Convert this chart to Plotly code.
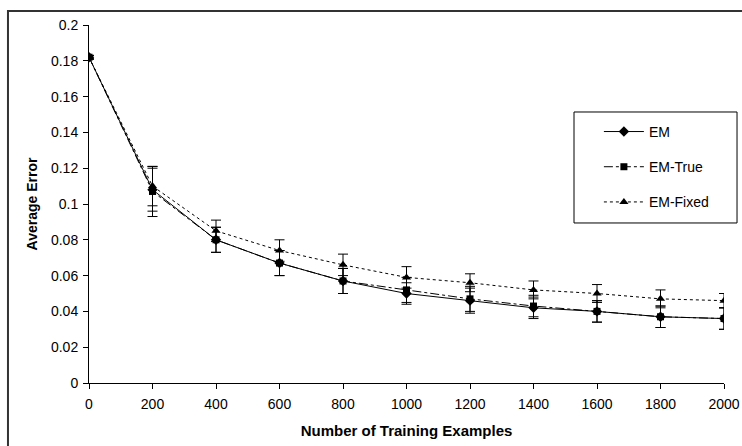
import plotly.graph_objects as go

x_vals = [0, 200, 400, 600, 800, 1000, 1200, 1400, 1600, 1800, 2000]

em = [0.182, 0.108, 0.080, 0.067, 0.057, 0.050, 0.046, 0.042, 0.040, 0.037, 0.036]
em_err = [0.001, 0.012, 0.007, 0.007, 0.007, 0.006, 0.007, 0.006, 0.006, 0.006, 0.006]

em_true = [0.182, 0.107, 0.080, 0.067, 0.057, 0.052, 0.047, 0.043, 0.040, 0.037, 0.036]
em_true_err = [0.001, 0.014, 0.007, 0.007, 0.007, 0.007, 0.007, 0.006, 0.006, 0.006, 0.006]

em_fixed = [0.182, 0.110, 0.085, 0.074, 0.066, 0.059, 0.056, 0.052, 0.050, 0.047, 0.046]
em_fixed_err = [0.001, 0.011, 0.006, 0.006, 0.006, 0.006, 0.005, 0.005, 0.005, 0.005, 0.004]

y_ticks = [0, 0.02, 0.04, 0.06, 0.08, 0.1, 0.12, 0.14, 0.16, 0.18, 0.2]
y_tick_labels = ["0", "0.02", "0.04", "0.06", "0.08", "0.1", "0.12", "0.14", "0.16", "0.18", "0.2"]
x_ticks = x_vals

series = [
    ("EM", em, em_err, "solid", "diamond", 8),
    ("EM-True", em_true, em_true_err, "dashdot", "square", 7),
    ("EM-Fixed", em_fixed, em_fixed_err, "dot", "triangle-up", 8),
]

fig = go.Figure()
for name, ys, errs, dash, sym, sz in series:
    fig.add_trace(go.Scatter(
        x=x_vals, y=ys, name=name, mode="lines+markers",
        legendgroup=name,
        line=dict(color="black", width=1, dash=dash),
        marker=dict(symbol=sym, size=sz, color="black"),
        error_y=dict(type="data", array=errs, visible=True, color="black",
                     thickness=1, width=5),
    ))

font_family = "Liberation Sans, Arial, sans-serif"

fig.update_layout(
    width=742, height=446,
    margin=dict(l=89, r=18, t=25, b=63, autoexpand=False),
    paper_bgcolor="white", plot_bgcolor="white",
    font=dict(family=font_family, size=14, color="black"),
    showlegend=True,
    legend=dict(
        x=0.803, y=0.746, xanchor="left", yanchor="top",
        borderwidth=0, bgcolor="rgba(0,0,0,0)",
        font=dict(size=14, family=font_family),
        tracegroupgap=14,
        itemwidth=40,
    ),
    xaxis=dict(
        range=[0, 2000], tickvals=x_ticks, automargin=False,
        showgrid=False, zeroline=False,
        showline=True, linecolor="black", linewidth=1,
        ticks="outside", ticklen=5, tickcolor="black",
        tickfont=dict(size=14), ticklabelstandoff=3,
        title=dict(text="<b>Number of Training Examples</b>",
                   font=dict(size=15), standoff=14),
    ),
    yaxis=dict(
        range=[0, 0.2], tickvals=y_ticks, ticktext=y_tick_labels, automargin=False,
        showgrid=False, zeroline=False,
        showline=True, linecolor="black", linewidth=1,
        ticks="outside", ticklen=5, tickcolor="black",
        tickfont=dict(size=14), ticklabelstandoff=2,
        title=dict(text="<b>Average Error</b>",
                   font=dict(size=14, family="Liberation Sans Narrow, Liberation Sans, Arial"),
                   standoff=10),
    ),
    shapes=[
        dict(
            type="rect", xref="paper", yref="paper",
            x0=-0.1276, y0=-0.35, x1=1.2, y1=1.039,
            line=dict(color="#333333", width=2), fillcolor="rgba(0,0,0,0)",
            layer="below",
        ),
        dict(
            type="rect", xref="paper", yref="paper",
            x0=0.7638, y0=0.447, x1=1.0205, y1=0.757,
            line=dict(color="black", width=1), fillcolor="white",
            layer="below",
        ),
    ],
)

fig.write_html(
    "out.html",
    config={"responsive": False, "displayModeBar": False},
    post_script="document.body.style.margin='0';document.body.style.overflow='hidden';",
)
